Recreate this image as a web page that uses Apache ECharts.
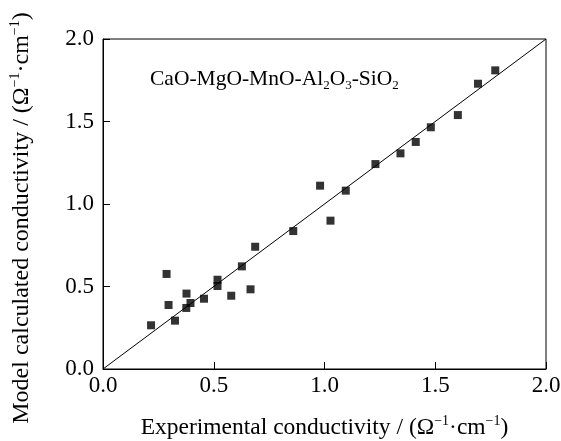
<!DOCTYPE html>
<html>
<head>
<meta charset="utf-8">
<script src="https://cdn.jsdelivr.net/npm/echarts@6/dist/echarts.min.js"></script>
<style>html,body{margin:0;padding:0;background:#fff}#c{width:561px;height:441px}</style>
</head>
<body>
<div id="c"></div>
<script>
// Experimental conductivity (x) and model-calculated conductivity (y)
const experimental = [0.217, 0.287, 0.296, 0.325, 0.377, 0.376, 0.395, 0.456, 0.517, 0.517, 0.579, 0.627, 0.666, 0.687, 0.859, 0.980, 1.027, 1.096, 1.230, 1.343, 1.412, 1.480, 1.602, 1.693, 1.771];
const calculated   = [0.265, 0.576, 0.388, 0.293, 0.457, 0.370, 0.400, 0.426, 0.541, 0.503, 0.444, 0.622, 0.483, 0.741, 0.836, 1.111, 0.899, 1.081, 1.242, 1.307, 1.376, 1.465, 1.539, 1.729, 1.810];
const diagonal = [[0, 0], [2, 2]];
const axisMin = 0, axisMax = 2, axisStep = 0.5;

const FONT = '"Liberation Serif", "DejaVu Serif", serif';
const points = experimental.map((x, i) => [x, calculated[i]]);

const chart = echarts.init(document.getElementById('c'), null, {renderer: 'canvas'});
const rich = {
  t: {fontFamily: FONT, fontSize: 23.5, color: '#000', lineHeight: 28},
  sup: {fontFamily: FONT, fontSize: 14, color: '#000', lineHeight: 28, verticalAlign: 'top'}
};
const grich = {
  t: {fontFamily: FONT, fontSize: 24, fill: '#000', lineHeight: 28},
  sup: {fontFamily: FONT, fontSize: 14, fill: '#000', lineHeight: 28, verticalAlign: 'top'}
};
chart.setOption({
  backgroundColor: '#fff',
  animation: false,
  grid: {left: 103, right: 15, top: 39, bottom: 72, show: true, borderColor: '#000', borderWidth: 1,
         backgroundColor: 'transparent', containLabel: false, outerBoundsMode: 'none'},
  xAxis: {
    type: 'value', min: axisMin, max: axisMax, interval: axisStep,
    axisLine: {show: true, lineStyle: {color: '#000', width: 1}},
    axisTick: {show: true, inside: true, length: 7, lineStyle: {color: '#000'}},
    splitLine: {show: false},
    axisLabel: {fontFamily: FONT, fontSize: 23, color: '#000', margin: 5, formatter: v => v.toFixed(1)},
    name: '{t|Experimental conductivity / (Ω}{sup|−1}{t|·cm}{sup|−1}{t|)}',
    nameLocation: 'middle', nameGap: 45,
    nameTextStyle: {rich: rich}
  },
  yAxis: {
    type: 'value', min: axisMin, max: axisMax, interval: axisStep,
    axisLine: {show: true, lineStyle: {color: '#000', width: 1}},
    axisTick: {show: true, inside: true, length: 7, lineStyle: {color: '#000'}},
    splitLine: {show: false},
    axisLabel: {fontFamily: FONT, fontSize: 23, color: '#000', margin: 9, formatter: v => v.toFixed(1)}
  },
  graphic: [{
    type: 'text', left: 150, top: 68, z: 10,
    style: {
      text: '{t|CaO-MgO-MnO-Al}{s|2}{t|O}{s|3}{t|-SiO}{s|2}',
      rich: {
        t: {fontFamily: FONT, fontSize: 21.5, fill: '#000', lineHeight: 26},
        s: {fontFamily: FONT, fontSize: 13, fill: '#000', lineHeight: 26, verticalAlign: 'bottom'}
      }
    }
  }, {
    type: 'text', x: 22, y: 218, rotation: Math.PI / 2, z: 10,
    style: {
      text: '{t|Model calculated conductivity / (Ω}{sup|−1}{t|·cm}{sup|−1}{t|)}',
      align: 'center', verticalAlign: 'middle',
      rich: grich
    }
  }],
  series: [
    {
      type: 'line', data: diagonal, showSymbol: false, symbol: 'none',
      lineStyle: {color: '#000', width: 1}, silent: true, z: 1
    },
    {
      type: 'scatter', data: points, symbol: 'rect', symbolSize: 8,
      itemStyle: {color: '#000'}, z: 2
    }
  ]
});
</script>
</body>
</html>
